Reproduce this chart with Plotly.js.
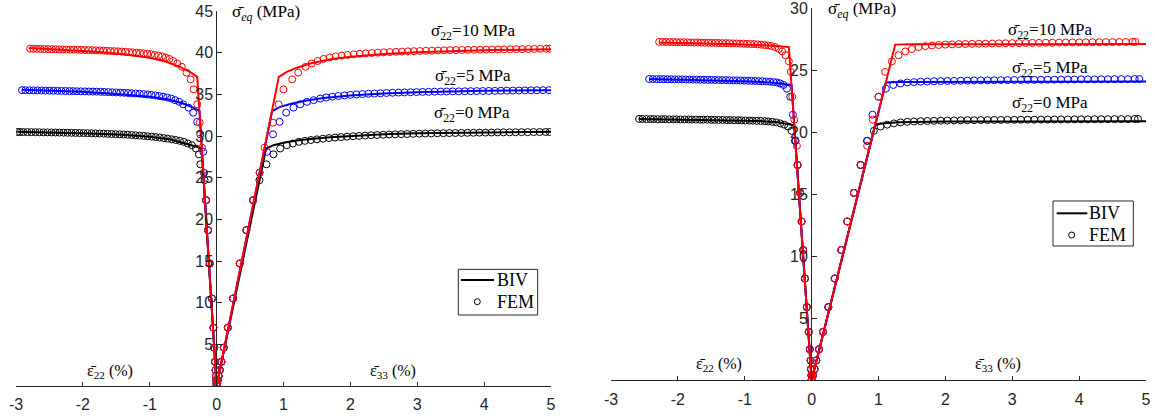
<!DOCTYPE html>
<html><head><meta charset="utf-8">
<script src="https://cdn.plot.ly/plotly-3.0.1.min.js"></script>
<style>html,body{margin:0;padding:0;background:#fff;}#chart{width:1155px;height:418px;}</style>
</head><body><div id="chart"></div>
<script>
// ---------------- tick labels ----------------
const X_TICKS = [-3, -2, -1, 0, 1, 2, 3, 4, 5];
const X_TICK_TEXT = ['-3', '-2', '-1', '0', '1', '2', '3', '4', '5'];
const Y_TICKS_A = [5, 10, 15, 20, 25, 30, 35, 40, 45];
const Y_TICKS_B = [5, 10, 15, 20, 25, 30];
const LEVEL_LABELS = ['σ\u0304<sub>22</sub>=0 MPa', 'σ\u0304<sub>22</sub>=5 MPa', 'σ\u0304<sub>22</sub>=10 MPa'];
const SERIES_NAMES = ['BIV', 'FEM'];

// ---------------- panel A (left) : FEM ----------------
const A_EL_S   = [0, 0.3, 0.7, 1.2, 1.9, 2.9, 4.6, 7.0, 10.5, 14.7, 18.7, 22.3];
const A_EL_E22 = [0, -0.003, -0.006, -0.01, -0.016, -0.025, -0.035, -0.048, -0.07, -0.103, -0.128, -0.158];
const A_EL_E33 = [0, 0.008, 0.018, 0.03, 0.048, 0.072, 0.108, 0.168, 0.246, 0.345, 0.445, 0.545];

const A0_S   = [24.7, 26.6, 27.8, 28.5, 28.9, 29.1, 29.3, 29.42, 29.52, 29.6, 29.68, 29.75, 29.81, 29.87, 29.92, 29.97, 30.01, 30.05, 30.09, 30.12, 30.15, 30.18, 30.2, 30.22, 30.24, 30.26, 30.28, 30.3, 30.31, 30.33, 30.34, 30.35, 30.36, 30.37, 30.38, 30.39, 30.4, 30.41, 30.42, 30.43, 30.44, 30.44, 30.45, 30.46, 30.46, 30.47, 30.47, 30.48, 30.48];
const A0_E22 = [-0.18, -0.244, -0.265, -0.31, -0.37, -0.43, -0.49, -0.55, -0.61, -0.67, -0.73, -0.79, -0.85, -0.91, -0.97, -1.03, -1.09, -1.15, -1.21, -1.27, -1.33, -1.39, -1.45, -1.51, -1.57, -1.63, -1.69, -1.75, -1.81, -1.87, -1.93, -1.99, -2.05, -2.11, -2.17, -2.23, -2.29, -2.35, -2.41, -2.47, -2.53, -2.59, -2.65, -2.71, -2.77, -2.83, -2.89, -2.94, -2.98];
const A0_E33 = [0.64, 0.745, 0.85, 0.95, 1.05, 1.14, 1.23, 1.32, 1.41, 1.5, 1.59, 1.68, 1.77, 1.86, 1.95, 2.04, 2.13, 2.22, 2.31, 2.4, 2.49, 2.58, 2.67, 2.76, 2.85, 2.94, 3.03, 3.12, 3.21, 3.3, 3.39, 3.48, 3.57, 3.66, 3.75, 3.84, 3.93, 4.02, 4.11, 4.2, 4.29, 4.38, 4.47, 4.56, 4.65, 4.74, 4.83, 4.92, 4.98];

const A5_S   = [25.6, 28.1, 30.2, 31.7, 32.8, 33.4, 33.8, 34.1, 34.3, 34.5, 34.62, 34.72, 34.8, 34.87, 34.93, 34.98, 35.03, 35.07, 35.1, 35.13, 35.16, 35.19, 35.21, 35.23, 35.25, 35.27, 35.29, 35.3, 35.32, 35.33, 35.34, 35.35, 35.36, 35.37, 35.38, 35.39, 35.4, 35.41, 35.42, 35.43, 35.44, 35.45, 35.46, 35.47, 35.48, 35.49, 35.5, 35.5];
const A5_E22 = [-0.19, -0.2, -0.244, -0.29, -0.35, -0.42, -0.5, -0.56, -0.62, -0.68, -0.74, -0.8, -0.86, -0.915, -0.975, -1.03, -1.09, -1.15, -1.21, -1.27, -1.325, -1.385, -1.44, -1.5, -1.56, -1.62, -1.68, -1.735, -1.795, -1.85, -1.91, -1.97, -2.03, -2.09, -2.145, -2.2, -2.26, -2.32, -2.38, -2.44, -2.5, -2.56, -2.62, -2.68, -2.74, -2.8, -2.86, -2.91];
const A5_E33 = [0.643, 0.753, 0.843, 0.942, 1.04, 1.15, 1.25, 1.35, 1.45, 1.55, 1.64, 1.73, 1.82, 1.91, 2.0, 2.09, 2.18, 2.27, 2.36, 2.45, 2.54, 2.63, 2.72, 2.81, 2.9, 2.99, 3.08, 3.17, 3.26, 3.35, 3.44, 3.53, 3.62, 3.71, 3.8, 3.89, 3.98, 4.07, 4.16, 4.25, 4.34, 4.43, 4.52, 4.61, 4.7, 4.79, 4.88, 4.97];

const A10_S   = [25.6, 28.6, 31.6, 33.8, 35.6, 36.8, 37.6, 38.3, 38.7, 39.0, 39.25, 39.42, 39.55, 39.65, 39.73, 39.8, 39.86, 39.91, 39.96, 40.0, 40.04, 40.07, 40.1, 40.13, 40.16, 40.18, 40.2, 40.22, 40.24, 40.26, 40.28, 40.3, 40.31, 40.32, 40.34, 40.35, 40.36, 40.37, 40.38, 40.39, 40.4, 40.41, 40.42, 40.43, 40.44, 40.45, 40.46, 40.47, 40.48];
const A10_E22 = [-0.19, -0.218, -0.254, -0.29, -0.344, -0.39, -0.45, -0.52, -0.59, -0.65, -0.705, -0.76, -0.815, -0.87, -0.925, -0.98, -1.035, -1.09, -1.145, -1.2, -1.255, -1.31, -1.365, -1.42, -1.475, -1.53, -1.585, -1.64, -1.695, -1.75, -1.805, -1.86, -1.915, -1.97, -2.025, -2.08, -2.135, -2.19, -2.245, -2.3, -2.355, -2.41, -2.465, -2.52, -2.575, -2.63, -2.685, -2.74, -2.79];
const A10_E33 = [0.643, 0.718, 0.843, 0.927, 1.0, 1.13, 1.22, 1.33, 1.42, 1.51, 1.6, 1.69, 1.78, 1.87, 1.96, 2.05, 2.14, 2.23, 2.32, 2.41, 2.5, 2.59, 2.68, 2.77, 2.86, 2.95, 3.04, 3.13, 3.22, 3.31, 3.4, 3.49, 3.58, 3.67, 3.76, 3.85, 3.94, 4.03, 4.12, 4.21, 4.3, 4.39, 4.48, 4.57, 4.66, 4.75, 4.84, 4.93, 4.98];

// ---------------- panel A : BIV ----------------
const A0_BIV_LX = [0, -0.225, -0.3, -0.4, -0.55, -0.7, -1.0, -1.4, -1.9, -2.4, -2.98];
const A0_BIV_LY = [0, 28.5, 28.7, 28.95, 29.3, 29.6, 29.9, 30.15, 30.3, 30.42, 30.5];
const A0_BIV_RX = [0, 0.74, 0.85, 1.0, 1.2, 1.4, 1.7, 2.0, 2.5, 3.0, 4.0, 5.0];
const A0_BIV_RY = [0, 28.5, 28.9, 29.2, 29.45, 29.65, 29.85, 30.0, 30.2, 30.32, 30.45, 30.5];
const A5_BIV_LX = [0, -0.255, -0.35, -0.5, -0.7, -1.0, -1.5, -2.0, -2.5, -2.91];
const A5_BIV_LY = [0, 33.0, 33.4, 33.9, 34.35, 34.7, 35.05, 35.3, 35.45, 35.55];
const A5_BIV_RX = [0, 0.83, 0.95, 1.1, 1.3, 1.6, 2.0, 2.5, 3.0, 4.0, 5.0];
const A5_BIV_RY = [0, 33.0, 33.5, 33.85, 34.2, 34.55, 34.85, 35.1, 35.25, 35.42, 35.5];
const A10_BIV_LX = [0, -0.29, -0.4, -0.55, -0.75, -1.0, -1.4, -1.8, -2.3, -2.81];
const A10_BIV_LY = [0, 37.1, 37.7, 38.3, 38.9, 39.4, 39.8, 40.1, 40.35, 40.55];
const A10_BIV_RX = [0, 0.93, 1.05, 1.2, 1.4, 1.7, 2.0, 2.5, 3.0, 4.0, 5.0];
const A10_BIV_RY = [0, 37.1, 37.7, 38.2, 38.7, 39.2, 39.5, 39.85, 40.05, 40.3, 40.4];

// ---------------- panel B (right) : FEM ----------------
const B_EL_S   = [0, 0.4, 0.9, 1.6, 2.5, 3.9, 5.9, 8.2, 10.5, 12.8, 15.1, 17.35];
const B_EL_E22 = [0, -0.004, -0.01, -0.016, -0.027, -0.044, -0.072, -0.1, -0.126, -0.15, -0.172, -0.21];
const B_EL_E33 = [0, 0.02, 0.045, 0.07, 0.11, 0.17, 0.25, 0.344, 0.444, 0.533, 0.632, 0.732];

const B0_S   = [19.3, 20.1, 20.45, 20.6, 20.7, 20.78, 20.83, 20.86, 20.88, 20.9, 20.91, 20.92, 20.93, 20.94, 20.95, 20.96, 20.96, 20.97, 20.97, 20.98, 20.98, 20.99, 20.99, 21.0, 21.0, 21.0, 21.01, 21.01, 21.02, 21.02, 21.02, 21.03, 21.03, 21.03, 21.04, 21.04, 21.04, 21.05, 21.05, 21.05, 21.06, 21.06];
const B0_E22 = [-0.24, -0.3, -0.35, -0.41, -0.47, -0.53, -0.59, -0.65, -0.7, -0.76, -0.82, -0.88, -0.93, -0.99, -1.05, -1.1, -1.16, -1.22, -1.27, -1.33, -1.39, -1.45, -1.5, -1.56, -1.62, -1.67, -1.73, -1.79, -1.84, -1.9, -1.96, -2.02, -2.07, -2.13, -2.19, -2.24, -2.3, -2.36, -2.41, -2.47, -2.53, -2.58];
const B0_E33 = [0.83, 0.93, 1.03, 1.13, 1.23, 1.33, 1.43, 1.53, 1.63, 1.73, 1.83, 1.93, 2.03, 2.13, 2.23, 2.33, 2.43, 2.53, 2.63, 2.73, 2.83, 2.93, 3.03, 3.13, 3.23, 3.33, 3.43, 3.53, 3.63, 3.73, 3.83, 3.93, 4.03, 4.13, 4.23, 4.33, 4.43, 4.53, 4.63, 4.73, 4.83, 4.88];

const B5_S   = [19.3, 21.4, 22.85, 23.5, 23.8, 23.92, 24.0, 24.03, 24.06, 24.08, 24.1, 24.11, 24.12, 24.13, 24.14, 24.15, 24.16, 24.17, 24.17, 24.18, 24.19, 24.19, 24.2, 24.2, 24.21, 24.21, 24.22, 24.22, 24.23, 24.23, 24.24, 24.24, 24.25, 24.25, 24.25, 24.26, 24.26, 24.27, 24.27, 24.27, 24.28, 24.28];
const B5_E22 = [-0.25, -0.28, -0.32, -0.37, -0.42, -0.47, -0.52, -0.57, -0.625, -0.68, -0.734, -0.789, -0.844, -0.898, -0.953, -1.008, -1.062, -1.117, -1.172, -1.226, -1.281, -1.336, -1.39, -1.445, -1.5, -1.554, -1.609, -1.664, -1.718, -1.773, -1.828, -1.882, -1.937, -1.992, -2.046, -2.101, -2.156, -2.21, -2.265, -2.32, -2.375, -2.43];
const B5_E33 = [0.83, 0.91, 1.0, 1.11, 1.22, 1.33, 1.43, 1.53, 1.63, 1.73, 1.83, 1.93, 2.03, 2.13, 2.23, 2.33, 2.43, 2.53, 2.63, 2.73, 2.83, 2.93, 3.03, 3.13, 3.23, 3.33, 3.43, 3.53, 3.63, 3.73, 3.83, 3.93, 4.03, 4.13, 4.23, 4.33, 4.43, 4.53, 4.63, 4.73, 4.83, 4.9];

const B10_S   = [18.9, 21.0, 22.85, 24.85, 25.7, 26.2, 26.5, 26.7, 26.85, 26.93, 26.98, 27.02, 27.05, 27.07, 27.09, 27.1, 27.11, 27.12, 27.13, 27.14, 27.15, 27.16, 27.17, 27.17, 27.18, 27.19, 27.19, 27.2, 27.2, 27.21, 27.22, 27.22, 27.23, 27.23, 27.24, 27.24, 27.25, 27.25, 27.26, 27.26, 27.27, 27.27];
const B10_E22 = [-0.22, -0.26, -0.29, -0.31, -0.34, -0.39, -0.44, -0.49, -0.545, -0.6, -0.65, -0.703, -0.755, -0.808, -0.86, -0.913, -0.966, -1.018, -1.071, -1.123, -1.176, -1.229, -1.281, -1.334, -1.387, -1.439, -1.492, -1.544, -1.597, -1.65, -1.702, -1.755, -1.807, -1.86, -1.913, -1.965, -2.018, -2.07, -2.123, -2.176, -2.228, -2.28];
const B10_E33 = [0.83, 0.915, 1.0, 1.1, 1.2, 1.3, 1.4, 1.5, 1.6, 1.7, 1.8, 1.9, 2.0, 2.1, 2.2, 2.3, 2.4, 2.5, 2.6, 2.7, 2.8, 2.9, 3.0, 3.1, 3.2, 3.3, 3.4, 3.5, 3.6, 3.7, 3.8, 3.9, 4.0, 4.1, 4.2, 4.3, 4.4, 4.5, 4.6, 4.7, 4.8, 4.84];

// ---------------- panel B : BIV ----------------
const B0_BIV_LX = [0, -0.26, -0.35, -0.5, -0.8, -1.2, -1.8, -2.58];
const B0_BIV_LY = [0, 20.55, 20.68, 20.8, 20.9, 20.96, 21.0, 21.05];
const B0_BIV_RX = [0, 0.95, 1.05, 1.3, 2.0, 3.0, 5.0];
const B0_BIV_RY = [0, 20.6, 20.7, 20.8, 20.85, 20.87, 20.88];
const B5_BIV_LX = [0, -0.3, -0.4, -0.6, -1.0, -1.6, -2.43];
const B5_BIV_LY = [0, 23.8, 23.9, 24.0, 24.1, 24.2, 24.28];
const B5_BIV_RX = [0, 1.11, 1.3, 2.0, 3.0, 5.0];
const B5_BIV_RY = [0, 24.0, 24.03, 24.05, 24.06, 24.07];
const B10_BIV_LX = [0, -0.34, -0.45, -0.7, -1.2, -1.8, -2.28];
const B10_BIV_LY = [0, 26.85, 26.9, 27.0, 27.1, 27.18, 27.22];
const B10_BIV_RX = [0, 1.25, 1.5, 2.0, 3.0, 5.0];
const B10_BIV_RY = [0, 27.05, 27.07, 27.08, 27.09, 27.1];

// ---------------- builders ----------------
const COLORS = ['#000000', '#0000ff', '#ff0000'];
const AX = '#262626';
const SERIF = 'Liberation Serif';
const SANS = 'Liberation Sans';

function fem(elS, elL, elR, s, l, r, color, xa, ya) {
  const S = elS.concat(s), L = elL.concat(l), R = elR.concat(r);
  return {type: 'scatter', mode: 'markers', x: L.concat(R), y: S.concat(S), xaxis: xa, yaxis: ya,
    marker: {symbol: 'circle-open', size: 7, color: color, line: {width: 1, color: color}},
    showlegend: false, hoverinfo: 'skip'};
}
function biv(lx, ly, rx, ry, color, xa, ya) {
  return {type: 'scatter', mode: 'lines', xaxis: xa, yaxis: ya,
    x: lx.slice().reverse().concat(rx.slice(1)), y: ly.slice().reverse().concat(ry.slice(1)),
    line: {color: color, width: 2}, showlegend: false, hoverinfo: 'skip'};
}

const traces = [
  fem(A_EL_S, A_EL_E22, A_EL_E33, A0_S, A0_E22, A0_E33, COLORS[0], 'x', 'y'),
  biv(A0_BIV_LX, A0_BIV_LY, A0_BIV_RX, A0_BIV_RY, COLORS[0], 'x', 'y'),
  fem(A_EL_S, A_EL_E22, A_EL_E33, A5_S, A5_E22, A5_E33, COLORS[1], 'x', 'y'),
  biv(A5_BIV_LX, A5_BIV_LY, A5_BIV_RX, A5_BIV_RY, COLORS[1], 'x', 'y'),
  fem(A_EL_S, A_EL_E22, A_EL_E33, A10_S, A10_E22, A10_E33, COLORS[2], 'x', 'y'),
  biv(A10_BIV_LX, A10_BIV_LY, A10_BIV_RX, A10_BIV_RY, COLORS[2], 'x', 'y'),
  fem(B_EL_S, B_EL_E22, B_EL_E33, B0_S, B0_E22, B0_E33, COLORS[0], 'x2', 'y2'),
  biv(B0_BIV_LX, B0_BIV_LY, B0_BIV_RX, B0_BIV_RY, COLORS[0], 'x2', 'y2'),
  fem(B_EL_S, B_EL_E22, B_EL_E33, B5_S, B5_E22, B5_E33, COLORS[1], 'x2', 'y2'),
  biv(B5_BIV_LX, B5_BIV_LY, B5_BIV_RX, B5_BIV_RY, COLORS[1], 'x2', 'y2'),
  fem(B_EL_S, B_EL_E22, B_EL_E33, B10_S, B10_E22, B10_E33, COLORS[2], 'x2', 'y2'),
  biv(B10_BIV_LX, B10_BIV_LY, B10_BIV_RX, B10_BIV_RY, COLORS[2], 'x2', 'y2')
];

function xAxis(domain, anchor) {
  return {domain: domain, range: [-3, 5], anchor: anchor, showline: true, linecolor: AX, linewidth: 1,
    ticks: 'inside', ticklen: 4, tickwidth: 1, tickcolor: AX, tickmode: 'array', tickvals: X_TICKS, ticktext: X_TICK_TEXT,
    showgrid: false, zeroline: false, ticklabelstandoff: 4, ticklabeloverflow: 'allow',
    tickfont: {family: SANS, size: 16, color: AX}, fixedrange: true};
}
function yAxis(domain, range, tickvals, pos) {
  return {domain: domain, range: range, anchor: 'free', position: pos, showline: true, linecolor: AX, linewidth: 1,
    ticks: 'inside', ticklen: 5, tickwidth: 1, tickcolor: AX, tickmode: 'array', tickvals: tickvals,
    ticklabeloverflow: 'allow',
    showgrid: false, zeroline: false, tickfont: {family: SANS, size: 16, color: AX}, fixedrange: true};
}

function ann(text, x, y, xa, ya, xanchor, size) {
  return {text: text, x: x, y: y, xref: xa, yref: ya, xanchor: xanchor || 'center', yanchor: 'middle',
    showarrow: false, font: {family: SERIF, size: size || 17, color: '#000'}};
}

// hand-drawn legends (box, line sample, circle sample) in page fractions
function legendBox(x0, x1, y0, y1, lx0, lx1, ly, cx0, cx1, cy0, cy1) {
  return [
    {type: 'rect', xref: 'paper', yref: 'paper', x0: x0, x1: x1, y0: y0, y1: y1,
      line: {color: AX, width: 1}, fillcolor: '#ffffff', layer: 'above'},
    {type: 'line', xref: 'paper', yref: 'paper', x0: lx0, x1: lx1, y0: ly, y1: ly,
      line: {color: '#000', width: 2}, layer: 'above'},
    {type: 'circle', xref: 'paper', yref: 'paper', x0: cx0, x1: cx1, y0: cy0, y1: cy1,
      line: {color: '#000', width: 1}, layer: 'above'}
  ];
}
const shapes = [
  ...legendBox(0.3968, 0.4655, 0.2464, 0.3557, 0.3991, 0.4277, 0.3301, 0.41065, 0.41584, 0.27105, 0.28541),
  ...legendBox(0.91169, 0.98121, 0.41148, 0.51914, 0.91489, 0.94139, 0.48971, 0.92528, 0.93048, 0.43062, 0.44498)
];

const annotations = [
  ann('σ\u0304<sub><i>eq</i></sub> (MPa)', 0.205, 44.75, 'x', 'y', 'left', 17),
  ann(LEVEL_LABELS[2], 3.84, 42.5, 'x', 'y'),
  ann(LEVEL_LABELS[1], 3.84, 37.1, 'x', 'y'),
  ann(LEVEL_LABELS[0], 3.82, 32.6, 'x', 'y'),
  ann('ε\u0304<sub>22</sub> (%)', -1.59, 1.75, 'x', 'y', 'center', 16),
  ann('ε\u0304<sub>33</sub> (%)', 2.64, 1.75, 'x', 'y', 'center', 16),
  ann('σ\u0304<sub><i>eq</i></sub> (MPa)', 0.21, 29.8, 'x2', 'y2', 'left', 17),
  ann(LEVEL_LABELS[2], 3.56, 28.15, 'x2', 'y2'),
  ann(LEVEL_LABELS[1], 3.56, 25.1, 'x2', 'y2'),
  ann(LEVEL_LABELS[0], 3.56, 22.26, 'x2', 'y2'),
  ann('ε\u0304<sub>22</sub> (%)', -1.39, 1.3, 'x2', 'y2', 'center', 16),
  ann('ε\u0304<sub>33</sub> (%)', 2.78, 1.3, 'x2', 'y2', 'center', 16),
  ann(SERIES_NAMES[0], 0.4285, 0.3301, 'paper', 'paper', 'left', 18),
  ann(SERIES_NAMES[1], 0.4285, 0.27823, 'paper', 'paper', 'left', 18),
  ann(SERIES_NAMES[0], 0.9415, 0.48971, 'paper', 'paper', 'left', 18),
  ann(SERIES_NAMES[1], 0.9415, 0.43780, 'paper', 'paper', 'left', 18)
];

const layout = {
  width: 1155, height: 418, margin: {l: 0, r: 0, t: 0, b: 0},
  paper_bgcolor: '#ffffff', plot_bgcolor: 'rgba(0,0,0,0)',
  font: {family: SANS},
  showlegend: false,
  xaxis: xAxis([0.01385, 0.47706], 'y'),
  yaxis: yAxis([0.07656, 0.97368], [0, 45.001], Y_TICKS_A, 0.18727),
  xaxis2: xAxis([0.52900, 0.99221], 'y2'),
  yaxis2: yAxis([0.09019, 0.98086], [0, 30.001], Y_TICKS_B, 0.70216),
  shapes: shapes,
  annotations: annotations,
  hovermode: false
};

Plotly.newPlot('chart', traces, layout, {displayModeBar: false, staticPlot: true});
</script></body></html>
